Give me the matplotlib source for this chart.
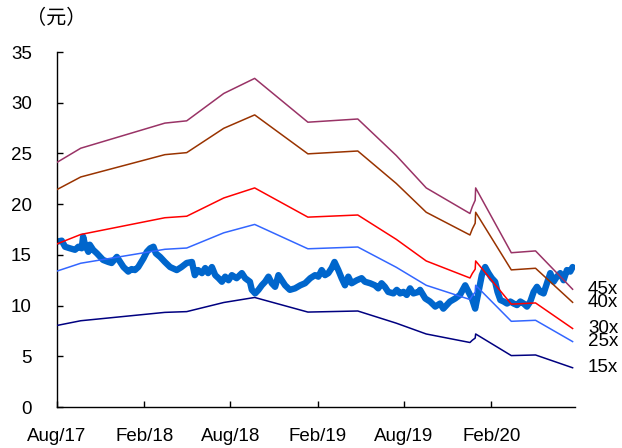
import matplotlib
matplotlib.use("Agg")
import matplotlib.pyplot as plt
import matplotlib.dates as mdates
import numpy as np
import pandas as pd

# forward EPS anchor points (band value = multiple * eps)
EPS_DATES = ["2017-08-01", "2017-09-20", "2018-03-16", "2018-05-01", "2018-07-18",
             "2018-09-21", "2019-01-11", "2019-04-26", "2019-07-16", "2019-09-17",
             "2019-12-18", "2019-12-23", "2019-12-29", "2019-12-30", "2020-03-14",
             "2020-05-04", "2020-07-21"]
EPS = [0.536, 0.567, 0.622, 0.627, 0.687,
       0.720, 0.624, 0.631, 0.551, 0.480,
       0.424, 0.439, 0.453, 0.480, 0.338,
       0.342, 0.258]

MULTIPLES = [45, 40, 30, 25, 15]
BAND_LABELS = ["45x", "40x", "30x", "25x", "15x"]
BAND_COLORS = ["#993366", "#993300", "#FF0000", "#3366FF", "#000080"]

PRICE_DATES = [
    "2017-08-01", "2017-08-11", "2017-08-18", "2017-08-28", "2017-09-08", "2017-09-15",
    "2017-09-22", "2017-09-25", "2017-09-29", "2017-10-06", "2017-10-09", "2017-10-16",
    "2017-10-24", "2017-10-31", "2017-11-06", "2017-11-17", "2017-11-24", "2017-12-05",
    "2017-12-12", "2017-12-19", "2017-12-29", "2018-01-05", "2018-01-12", "2018-01-19",
    "2018-01-30", "2018-02-06", "2018-02-13", "2018-02-20", "2018-02-25", "2018-03-06",
    "2018-03-16", "2018-03-27", "2018-04-10", "2018-04-20", "2018-05-01", "2018-05-12",
    "2018-05-18", "2018-05-25", "2018-06-02", "2018-06-09", "2018-06-15", "2018-06-23",
    "2018-06-30", "2018-07-07", "2018-07-14", "2018-07-21", "2018-07-28", "2018-08-04",
    "2018-08-14", "2018-08-25", "2018-09-01", "2018-09-11", "2018-09-15", "2018-09-22",
    "2018-09-29", "2018-10-06", "2018-10-13", "2018-10-20", "2018-10-27", "2018-11-03",
    "2018-11-10", "2018-11-17", "2018-11-24", "2018-12-04", "2018-12-15", "2018-12-26",
    "2019-01-05", "2019-01-16", "2019-01-26", "2019-02-02", "2019-02-09", "2019-02-16",
    "2019-02-23", "2019-03-02", "2019-03-08", "2019-03-16", "2019-03-23", "2019-03-30",
    "2019-04-06", "2019-04-13", "2019-04-24", "2019-05-04", "2019-05-11", "2019-05-22",
    "2019-06-01", "2019-06-08", "2019-06-15", "2019-06-22", "2019-06-29", "2019-07-10",
    "2019-07-17", "2019-07-24", "2019-07-31", "2019-08-07", "2019-08-14", "2019-08-21",
    "2019-09-01", "2019-09-04", "2019-09-15", "2019-09-25", "2019-10-06", "2019-10-16",
    "2019-10-23", "2019-10-30", "2019-11-06", "2019-11-17", "2019-11-27", "2019-12-08",
    "2019-12-15", "2019-12-22", "2019-12-29", "2020-01-05", "2020-01-12", "2020-01-19",
    "2020-01-26", "2020-02-02", "2020-02-09", "2020-02-14", "2020-02-20", "2020-02-27",
    "2020-03-05", "2020-03-12", "2020-03-19", "2020-03-26", "2020-04-02", "2020-04-09",
    "2020-04-16", "2020-04-23", "2020-04-30", "2020-05-07", "2020-05-14", "2020-05-21",
    "2020-05-28", "2020-06-04", "2020-06-11", "2020-06-18", "2020-06-25", "2020-07-02",
    "2020-07-09", "2020-07-16", "2020-07-21",
]
PRICE = [
    16.3, 16.4, 15.8, 15.65, 15.5, 15.8,
    15.65, 16.8, 16.0, 15.3, 16.0, 15.5,
    15.15, 14.8, 14.5, 14.3, 14.2, 14.8,
    14.3, 13.8, 13.35, 13.6, 13.5, 13.8,
    14.65, 15.3, 15.65, 15.8, 15.15, 14.8,
    14.3, 13.8, 13.5, 13.8, 14.2, 14.3,
    13.0, 13.5, 13.2, 13.7, 13.2, 13.8,
    13.0, 12.7, 12.35, 12.85, 12.5, 13.0,
    12.7, 13.2, 12.7, 12.35, 11.55, 11.2,
    11.55, 12.0, 12.35, 12.85, 12.2, 11.85,
    13.0, 12.5, 12.0, 11.55, 11.7, 12.0,
    12.2, 12.7, 13.0, 12.85, 13.5, 13.0,
    13.2, 13.7, 14.3, 13.5, 12.7, 12.0,
    12.85, 12.2, 12.5, 12.7, 12.35, 12.2,
    12.0, 11.7, 12.2, 11.85, 11.35, 11.2,
    11.55, 11.2, 11.35, 11.05, 11.7, 11.2,
    11.35, 11.55, 10.7, 10.4, 9.9, 10.2,
    9.7, 10.05, 10.4, 10.7, 11.05, 12.0,
    11.35, 10.7, 9.7, 11.35, 13.0, 13.8,
    13.2, 12.7, 12.35, 11.35, 10.55, 10.4,
    10.2, 10.4, 10.2, 10.05, 10.4, 10.2,
    9.9, 10.4, 11.35, 11.85, 11.35, 11.2,
    12.2, 13.2, 12.35, 12.85, 13.2, 12.5,
    13.5, 13.35, 13.8,
]

X_TICKS = ["2017-08-01", "2018-02-01", "2018-08-01", "2019-02-01", "2019-08-01", "2020-02-01"]

plt.rcParams["font.family"] = ["Liberation Sans", "Noto Sans CJK SC", "DejaVu Sans"]

eps_dates = pd.to_datetime(EPS_DATES)
eps = np.array(EPS)
price_dates = pd.to_datetime(PRICE_DATES)

fig = plt.figure(figsize=(6.22, 4.48), dpi=100)
ax = fig.add_axes([0.0916, 0.0915, 0.8328, 0.7924])

ax.plot(price_dates, PRICE, color="#0066CC", lw=4.6, solid_joinstyle="round",
        solid_capstyle="round", zorder=2)

for m, lab, col in zip(MULTIPLES, BAND_LABELS, BAND_COLORS):
    band = m * eps
    ax.plot(eps_dates, band, color=col, lw=1.1, zorder=3)
    ax.annotate(lab, xy=(eps_dates[-1], band[-1]), xytext=(11, 0),
                textcoords="offset points", va="center", ha="left",
                fontsize=13.5, annotation_clip=False)

ax.set_ylim(0, 35)
ax.set_yticks(np.arange(0, 36, 5))
ax.set_xlim(pd.Timestamp("2017-08-01"), pd.Timestamp("2020-07-26"))
ax.set_xticks(pd.to_datetime(X_TICKS))
ax.xaxis.set_major_formatter(mdates.DateFormatter("%b/%y"))

for side in ["top", "right"]:
    ax.spines[side].set_visible(False)
for side in ["left", "bottom"]:
    ax.spines[side].set_linewidth(1.0)
ax.tick_params(axis="y", direction="in", length=4, width=1, labelsize=13.5, pad=18)
ax.tick_params(axis="x", direction="in", length=4, width=1, labelsize=13.5, pad=15)

fig.text(0.09, 0.958, "（元）", fontsize=14.5, ha="center", va="center",
         family=["Noto Sans CJK SC", "DejaVu Sans"])

fig.savefig("out.png", dpi=100)
